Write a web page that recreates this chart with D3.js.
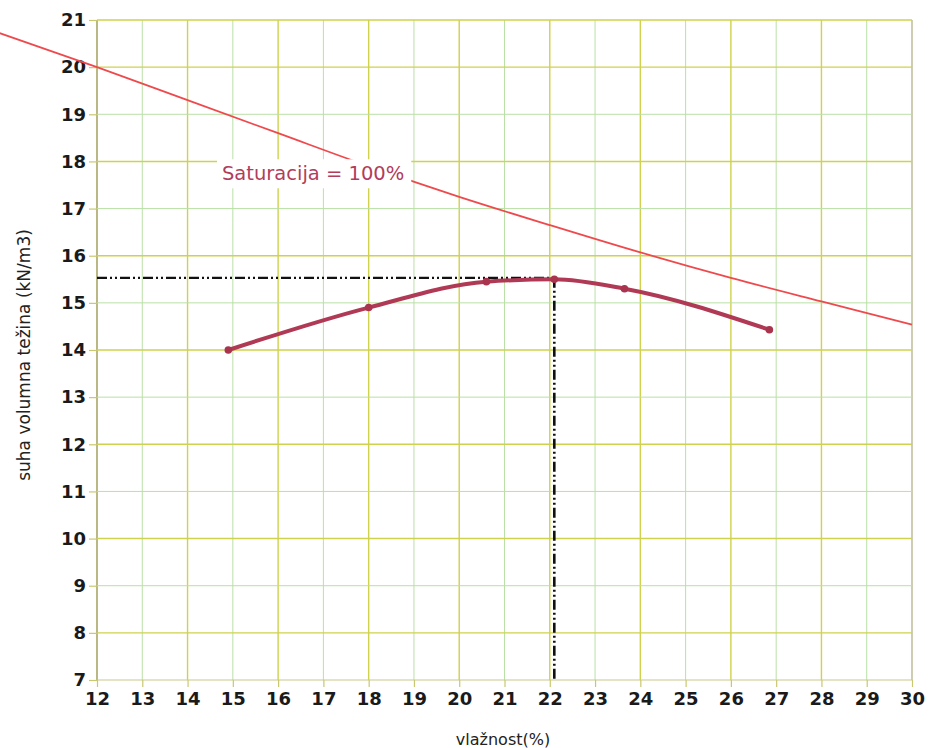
<!DOCTYPE html>
<html>
<head>
<meta charset="utf-8">
<script src="https://cdn.jsdelivr.net/npm/d3@7"></script>
<style>
  html, body { margin: 0; padding: 0; background: #fff; }
  svg { display: block; }
</style>
</head>
<body>
<svg id="chart" width="931" height="748"></svg>
<script>
// ---- data ----
const xTicks = [12,13,14,15,16,17,18,19,20,21,22,23,24,25,26,27,28,29,30];
const yTicks = [7,8,9,10,11,12,13,14,15,16,17,18,19,20,21];

const moisture   = [14.9, 18.0, 20.6, 22.1, 23.65, 26.85];
const dryWeight  = [14.0, 14.9, 15.45, 15.5, 15.3, 14.43];

const satMoisture = [9.85, 12, 14, 16, 18, 20, 22, 24, 26, 28, 30];
const satWeight   = [20.72, 20.0, 19.3, 18.6, 17.9, 17.25, 16.65, 16.07, 15.53, 15.03, 14.54];

const optMoisture = [22.1];
const maxDryWeight = [15.53];

const satLabel = "Saturacija = 100%";
const xTitle = "vlažnost(%)";
const yTitle = "suha volumna težina (kN/m3)";

// ---- layout ----
const svg = d3.select("#chart");
const x = d3.scaleLinear().domain([12, 30]).range([97, 912]);
const y = d3.scaleLinear().domain([7, 21]).range([680, 20]);

const majorCol = "#cfd24c", minorCol = "#b9e0a6";

// grid
const grid = svg.append("g");
grid.selectAll("line.v").data(xTicks).join("line")
  .attr("x1", d => x(d)).attr("x2", d => x(d))
  .attr("y1", y(21)).attr("y2", y(7))
  .attr("stroke", d => d === 12 ? "#9c9a50" : (d === 30 ? "#b8b890" : (d % 2 === 0 ? majorCol : minorCol)))
  .attr("stroke-width", d => d % 2 === 0 ? 1.4 : 1);
grid.selectAll("line.h").data(yTicks).join("line")
  .attr("x1", x(12)).attr("x2", x(30))
  .attr("y1", d => y(d)).attr("y2", d => y(d))
  .attr("stroke", d => d === 7 ? "#c9c98a" : (d % 2 === 0 || d === 21 ? majorCol : minorCol))
  .attr("stroke-width", d => (d % 2 === 0 || d === 21) ? 1.4 : 1);

// axes
const font = "'DejaVu Sans', Verdana, sans-serif";
const xAxis = svg.append("g").attr("transform", `translate(0,${y(7)})`)
  .call(d3.axisBottom(x).tickValues(xTicks).tickFormat(d3.format("d")).tickSize(7).tickPadding(5));
const yAxis = svg.append("g").attr("transform", `translate(${x(12)},0)`)
  .call(d3.axisLeft(y).tickValues(yTicks).tickFormat(d3.format("d")).tickSize(8).tickPadding(3));
[xAxis, yAxis].forEach(a => {
  a.select(".domain").remove();
  a.selectAll(".tick line").attr("stroke", "#c8c870").attr("stroke-width", 1.2);
  a.selectAll(".tick text").attr("fill", "#1a1a1a").style("font-family", font)
    .style("font-size", "18px").style("font-weight", "bold");
});

// saturation line
svg.append("path")
  .datum(satMoisture.map((m, i) => [m, satWeight[i]]))
  .attr("fill", "none").attr("stroke", "#ee4a4e").attr("stroke-width", 1.8)
  .attr("d", d3.line().x(d => x(d[0])).y(d => y(d[1])).curve(d3.curveCatmullRom));

// saturation label with white background
const lbl = svg.append("g");
const lblText = lbl.append("text")
  .attr("x", x(14.76)).attr("y", y(17.6))
  .attr("fill", "#b23c5c").style("font-family", font).style("font-size", "19.5px")
  .text(satLabel);
const bb = lblText.node().getBBox();
lbl.insert("rect", "text")
  .attr("x", bb.x - 5).attr("y", bb.y - 3).attr("width", bb.width + 12).attr("height", bb.height + 6)
  .attr("fill", "#fff");

// optimum dash-dot lines
const dash = "10,3,2,3,2,3";
svg.append("line")
  .attr("x1", x(12)).attr("x2", x(optMoisture[0]))
  .attr("y1", y(maxDryWeight[0])).attr("y2", y(maxDryWeight[0]))
  .attr("stroke", "#111").attr("stroke-width", 2.2).attr("stroke-dasharray", dash);
svg.append("line")
  .attr("x1", x(optMoisture[0])).attr("x2", x(optMoisture[0]))
  .attr("y1", y(maxDryWeight[0])).attr("y2", y(7))
  .attr("stroke", "#111").attr("stroke-width", 2.6).attr("stroke-dasharray", dash);

// compaction curve
const pts = moisture.map((m, i) => [m, dryWeight[i]]);
svg.append("path").datum(pts)
  .attr("fill", "none").attr("stroke", "#b03a55").attr("stroke-width", 4)
  .attr("stroke-linecap", "round")
  .attr("d", d3.line().x(d => x(d[0])).y(d => y(d[1])).curve(d3.curveMonotoneX));
svg.selectAll("circle.pt").data(pts).join("circle")
  .attr("cx", d => x(d[0])).attr("cy", d => y(d[1])).attr("r", 3.8)
  .attr("fill", "#a8344e");

// titles
svg.append("text").attr("x", 503).attr("y", 745).attr("text-anchor", "middle")
  .attr("fill", "#222").style("font-family", font).style("font-size", "16px")
  .text(xTitle);
svg.append("text").attr("transform", "translate(25,355) rotate(-90)")
  .attr("text-anchor", "middle").attr("dominant-baseline", "middle")
  .attr("fill", "#222").style("font-family", font).style("font-size", "17px")
  .text(yTitle);
</script>
</body>
</html>
